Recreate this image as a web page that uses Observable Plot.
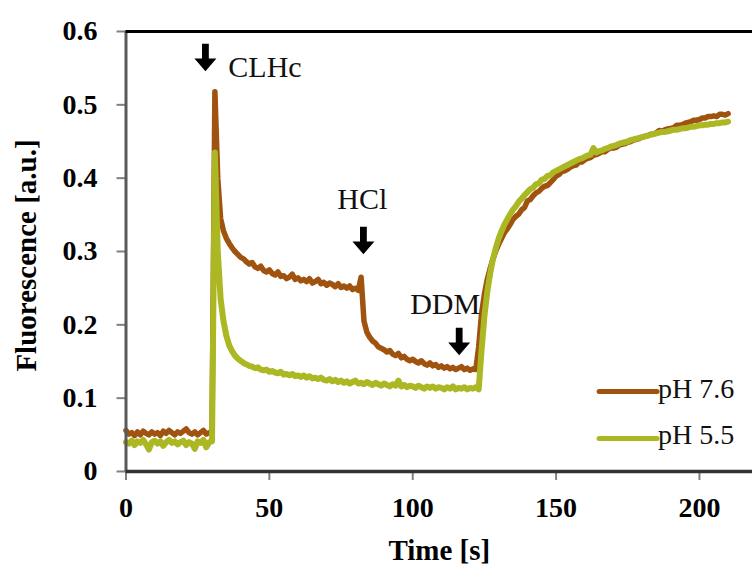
<!DOCTYPE html>
<html>
<head>
<meta charset="utf-8">
<script src="https://cdn.jsdelivr.net/npm/d3@7"></script>
<script src="https://cdn.jsdelivr.net/npm/@observablehq/plot@0.6"></script>
<style>
  html, body { margin: 0; padding: 0; background: #fff; }
  #chart { width: 752px; height: 565px; overflow: hidden; }
  .fig g[aria-label="x-axis"] .tick line,
  .fig g[aria-label="y-axis"] .tick line,
  .fig g[aria-label="x-axis tick"] path,
  .fig g[aria-label="y-axis tick"] path { stroke: #808080; stroke-width: 2px; }
</style>
</head>
<body>
<div id="chart"></div>
<script>
// ---- data ----
const time = d3.range(0, 211); // seconds, 1 s sampling

const ph76 = [
  0.056,0.051,0.053,0.049,0.054,0.050,0.055,0.052,0.050,0.054,
  0.051,0.053,0.049,0.055,0.052,0.056,0.053,0.050,0.054,0.052,
  0.055,0.058,0.053,0.051,0.054,0.050,0.053,0.056,0.051,0.053,
  0.052,
  0.518,
  0.400,0.345,0.328,0.318,0.311,0.305,0.300,0.296,
  0.292,0.290,0.286,0.283,0.285,0.279,0.277,0.280,0.274,0.272,
  0.275,0.270,0.268,0.272,0.266,0.267,0.263,0.265,0.269,0.262,
  0.264,0.260,0.262,0.259,0.263,0.257,0.259,0.262,0.256,0.258,
  0.254,0.257,0.255,0.252,0.256,0.251,0.253,0.250,0.253,0.248,
  0.250,0.247,0.265,
  0.205,0.190,0.183,0.178,0.175,0.170,0.168,
  0.166,0.163,0.165,0.160,0.158,0.161,0.155,0.157,0.153,0.151,
  0.153,0.150,0.148,0.151,0.147,0.145,0.148,0.144,0.146,0.142,
  0.144,0.141,0.143,0.140,0.142,0.139,0.141,0.143,0.139,0.141,
  0.138,0.140,0.139,
  0.170,0.215,0.242,0.262,0.277,0.290,0.301,
  0.310,0.318,0.326,0.331,0.337,0.344,0.348,0.351,0.357,0.360,
  0.369,0.371,0.376,0.380,0.382,0.386,0.389,0.390,0.394,0.398,
  0.403,0.405,0.409,0.410,0.412,0.415,0.417,0.418,0.422,0.422,
  0.425,0.427,0.428,0.431,0.432,0.434,0.436,0.436,0.439,0.441,
  0.441,0.442,0.445,0.446,0.447,0.449,0.450,0.452,0.453,0.454,
  0.456,0.457,0.458,0.460,0.460,0.462,0.465,0.464,0.466,0.467,
  0.468,0.469,0.472,0.472,0.473,0.475,0.476,0.477,0.479,0.479,
  0.480,0.482,0.482,0.484,0.484,0.485,0.484,0.487,0.487,0.486,0.488
];

const ph55 = [
  0.040,0.038,0.042,0.036,0.041,0.039,0.043,0.037,0.030,0.040,
  0.042,0.038,0.041,0.035,0.040,0.043,0.039,0.041,0.037,0.040,
  0.042,0.036,0.040,0.038,0.031,0.041,0.039,0.043,0.033,0.040,
  0.041,
  0.435,
  0.300,0.235,0.205,0.185,0.172,0.164,0.158,0.154,
  0.151,0.148,0.146,0.144,0.143,0.141,0.142,0.139,0.138,0.139,
  0.136,0.137,0.135,0.134,0.136,0.132,0.133,0.131,0.133,0.130,
  0.131,0.129,0.131,0.128,0.130,0.127,0.128,0.126,0.128,0.125,
  0.124,0.126,0.123,0.125,0.122,0.124,0.121,0.123,0.120,0.122,
  0.124,0.120,0.121,0.119,0.122,0.120,0.118,0.121,0.119,0.117,
  0.120,0.118,0.116,0.119,0.117,0.124,0.116,0.118,0.115,0.117,
  0.116,0.114,0.117,0.115,0.113,0.116,0.114,0.116,0.113,0.115,
  0.114,0.112,0.115,0.113,0.116,0.112,0.114,0.113,0.115,0.112,
  0.114,0.113,0.115,0.112,
  0.165,0.212,0.245,0.270,0.290,0.305,
  0.318,0.328,0.337,0.344,0.351,0.357,0.362,0.368,0.372,0.377,
  0.381,0.385,0.387,0.392,0.393,0.398,0.399,0.403,0.404,0.408,
  0.410,0.412,0.414,0.416,0.418,0.420,0.422,0.424,0.426,0.427,
  0.429,0.431,0.432,0.441,0.435,0.437,0.438,0.440,0.441,0.443,
  0.444,0.445,0.447,0.448,0.449,0.450,0.452,0.453,0.454,0.455,
  0.456,0.457,0.458,0.459,0.460,0.461,0.462,0.463,0.463,0.464,
  0.465,0.466,0.466,0.467,0.468,0.468,0.469,0.470,0.470,0.471,
  0.472,0.472,0.473,0.473,0.474,0.474,0.475,0.475,0.476,0.476,0.477
];

const seriesNames = ["pH 7.6", "pH 5.5"];
const seriesColors = ["#a0520f", "#abb824"];

const xTicks = [0, 50, 100, 150, 200];
const yTicks = [0, 0.1, 0.2, 0.3, 0.4, 0.5, 0.6];

// event annotations
const eventLabels = ["CLHc", "HCl", "DDM"];
const eventLabelX = [35.7, 73.7, 99.1];
const eventLabelY = [0.5505, 0.3717, 0.2285];
const arrowX = [27.7, 82.8, 116.2];
const arrowY = [0.5646, 0.315, 0.1773];

// legend placement (data coords)
const legendX1 = [165, 165];
const legendX2 = [185.2, 185.2];
const legendY = [0.109, 0.045];

// ---- build tables ----
const rows76 = time.map((t, i) => ({t, v: ph76[i]}));
const rows55 = time.map((t, i) => ({t, v: ph55[i]}));
const events = eventLabels.map((s, i) => ({s, x: eventLabelX[i], y: eventLabelY[i]}));
const arrows = arrowX.map((x, i) => ({x, y: arrowY[i]}));
const legend = seriesNames.map((s, i) => ({s, c: seriesColors[i], x1: legendX1[i], x2: legendX2[i], y: legendY[i]}));

// block down-arrow symbol (fixed pixel geometry)
const downArrow = {
  draw(ctx) {
    ctx.moveTo(-3.4, -13.7);
    ctx.lineTo(3.4, -13.7);
    ctx.lineTo(3.4, 1);
    ctx.lineTo(11, 1);
    ctx.lineTo(0, 13.7);
    ctx.lineTo(-11, 1);
    ctx.lineTo(-3.4, 1);
    ctx.closePath();
  }
};

const serif = "'Liberation Serif', 'Times New Roman', Times, serif";

const chart = Plot.plot({
  width: 752,
  height: 565,
  marginLeft: 125.5,
  marginRight: 0,
  marginTop: 31,
  marginBottom: 94,
  className: "fig",
  style: {
    fontFamily: serif,
    fontSize: "28px",
    fontWeight: "bold",
    color: "black",
    background: "white",
    overflow: "visible"
  },
  x: {
    domain: [0, 218.5],
    ticks: xTicks,
    tickSize: 9,
    tickPadding: 17,
    tickFormat: d => String(d),
    label: null
  },
  y: {
    domain: [0, 0.6],
    ticks: yTicks,
    tickSize: 9,
    tickPadding: 19.5,
    tickFormat: d => d === 0 ? "0" : d.toFixed(1),
    label: null
  },
  marks: [
    Plot.line(rows76, {x: "t", y: "v", stroke: seriesColors[0], strokeWidth: 5.5, strokeLinejoin: "round", strokeLinecap: "round"}),
    Plot.line(rows55, {x: "t", y: "v", stroke: seriesColors[1], strokeWidth: 6, strokeLinejoin: "round", strokeLinecap: "round"}),
    Plot.ruleX([0], {stroke: "#5a5a5a", strokeWidth: 3}),
    Plot.ruleY([0], {stroke: "#333", strokeWidth: 3.5}),
    Plot.ruleY([0.6], {stroke: "#000", strokeWidth: 3}),
    Plot.dot(arrows, {x: "x", y: "y", symbol: downArrow, r: 10, fill: "#000", stroke: "none"}),
    Plot.text(events, {x: "x", y: "y", text: "s", textAnchor: "start", fontSize: 30, fontWeight: "normal", fill: "#111"}),
    Plot.link(legend, {x1: "x1", x2: "x2", y1: "y", y2: "y", stroke: "c", strokeWidth: 5, strokeLinecap: "round"}),
    Plot.text(legend, {x: "x2", y: "y", text: "s", textAnchor: "start", dx: 1, dy: -3, fontSize: 28, fontWeight: "normal", fill: "#111"}),
    Plot.text(["Time [s]"], {text: d => d, frameAnchor: "bottom", lineAnchor: "middle", textAnchor: "middle", dy: 79, fontSize: 29, fontWeight: "bold"}),
    Plot.text(["Fluorescence [a.u.]"], {text: d => d, frameAnchor: "left", textAnchor: "middle", lineAnchor: "middle", dx: -99, dy: 4, rotate: -90, fontSize: 29, fontWeight: "bold"})
  ]
});

document.getElementById("chart").appendChild(chart);
</script>
</body>
</html>
